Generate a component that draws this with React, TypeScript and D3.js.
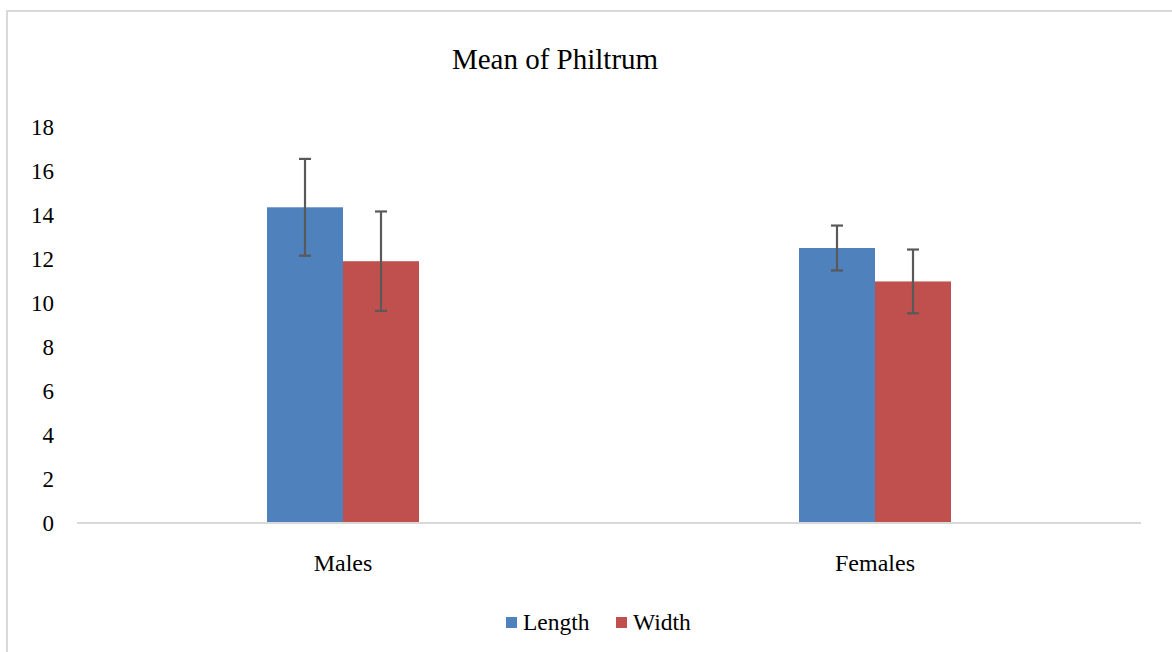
import React, { useRef, useEffect } from 'react';
import * as d3 from 'd3';

const categories = ['Males', 'Females'];
const seriesNames = ['Length', 'Width'];
const lengthMeans = [14.35, 12.5];
const widthMeans = [11.9, 10.98];
const lengthErrors = [2.2, 1.02];
const widthErrors = [2.26, 1.45];
const yTicks = [0, 2, 4, 6, 8, 10, 12, 14, 16, 18];

const colors = ['#4F81BD', '#C0504D'];
const FONT = '"Liberation Serif", "Times New Roman", serif';

export default function App() {
  const ref = useRef<SVGSVGElement>(null);

  useEffect(() => {
    if (!ref.current) return;
    drawChart(ref.current);
  }, []);

  return (
    <svg
      ref={ref}
      width={1172}
      height={652}
      style={{ position: 'absolute', left: 0, top: 0, background: '#fff' }}
    />
  );
}

function drawChart(svgElement: SVGSVGElement) {
  const left = 77;
  const right = 1141;
  const top = 127;
  const bottom = 523;

  const svg = d3.select(svgElement);
  svg.selectAll('*').remove();

  // outer chart border (runs off the right and bottom edges)
  svg.append('rect')
    .attr('x', 7)
    .attr('y', 11)
    .attr('width', 1200)
    .attr('height', 700)
    .attr('fill', '#fff')
    .attr('stroke', '#d9d9d9')
    .attr('stroke-width', 2);

  const x0 = d3.scaleBand().domain(categories).range([left, right]).padding(0);
  const groupWidth = 152;
  const x1 = d3.scaleBand().domain(seriesNames).range([0, groupWidth]).padding(0);

  const y = d3.scaleLinear().domain([0, 18]).range([bottom, top]);

  // title
  svg.append('text')
    .attr('x', 555)
    .attr('y', 69)
    .attr('text-anchor', 'middle')
    .attr('font-family', FONT)
    .attr('font-size', 29)
    .attr('fill', '#000')
    .text('Mean of Philtrum');

  // y tick labels
  svg.append('g')
    .selectAll('text')
    .data(yTicks)
    .enter()
    .append('text')
    .attr('x', 54)
    .attr('y', (d) => y(d))
    .attr('dy', '0.35em')
    .attr('text-anchor', 'end')
    .attr('font-family', FONT)
    .attr('font-size', 23)
    .attr('fill', '#000')
    .text((d) => d);

  const data = categories.map((c, i) => ({
    category: c,
    values: [
      { name: 'Length', mean: lengthMeans[i], err: lengthErrors[i] },
      { name: 'Width', mean: widthMeans[i], err: widthErrors[i] },
    ],
  }));

  const groups = svg.append('g')
    .selectAll('g')
    .data(data)
    .enter()
    .append('g')
    .attr('transform', (d) =>
      `translate(${x0(d.category)! + x0.bandwidth() / 2 - groupWidth / 2},0)`);

  groups.selectAll('rect')
    .data((d) => d.values)
    .enter()
    .append('rect')
    .attr('x', (d) => x1(d.name)!)
    .attr('y', (d) => y(d.mean))
    .attr('width', x1.bandwidth())
    .attr('height', (d) => bottom - y(d.mean))
    .attr('fill', (d, i) => colors[i]);

  // baseline
  svg.append('line')
    .attr('x1', left)
    .attr('x2', right)
    .attr('y1', bottom)
    .attr('y2', bottom)
    .attr('stroke', '#d9d9d9')
    .attr('stroke-width', 2);

  // error bars
  const eb = groups.selectAll('g.err')
    .data((d) => d.values)
    .enter()
    .append('g')
    .attr('class', 'err')
    .attr('stroke', '#595959')
    .attr('stroke-width', 2.2);

  const cx = (d: { name: string }) => x1(d.name)! + x1.bandwidth() / 2;
  eb.append('line')
    .attr('x1', cx).attr('x2', cx)
    .attr('y1', (d) => y(d.mean + d.err))
    .attr('y2', (d) => y(d.mean - d.err));
  eb.append('line')
    .attr('x1', (d) => cx(d) - 6).attr('x2', (d) => cx(d) + 6)
    .attr('y1', (d) => y(d.mean + d.err))
    .attr('y2', (d) => y(d.mean + d.err));
  eb.append('line')
    .attr('x1', (d) => cx(d) - 6).attr('x2', (d) => cx(d) + 6)
    .attr('y1', (d) => y(d.mean - d.err))
    .attr('y2', (d) => y(d.mean - d.err));

  // category labels
  svg.append('g')
    .selectAll('text')
    .data(categories)
    .enter()
    .append('text')
    .attr('x', (d) => x0(d)! + x0.bandwidth() / 2)
    .attr('y', 571)
    .attr('text-anchor', 'middle')
    .attr('font-family', FONT)
    .attr('font-size', 24)
    .attr('fill', '#000')
    .text((d) => d);

  // legend
  const legendX = [506, 616];
  const legend = svg.append('g')
    .selectAll('g')
    .data(seriesNames)
    .enter()
    .append('g')
    .attr('transform', (d, i) => `translate(${legendX[i]},617)`);
  legend.append('rect')
    .attr('width', 11)
    .attr('height', 11)
    .attr('fill', (d, i) => colors[i]);
  legend.append('text')
    .attr('x', 17)
    .attr('y', 13)
    .attr('font-family', FONT)
    .attr('font-size', 23.5)
    .attr('fill', '#000')
    .text((d) => d);
}
